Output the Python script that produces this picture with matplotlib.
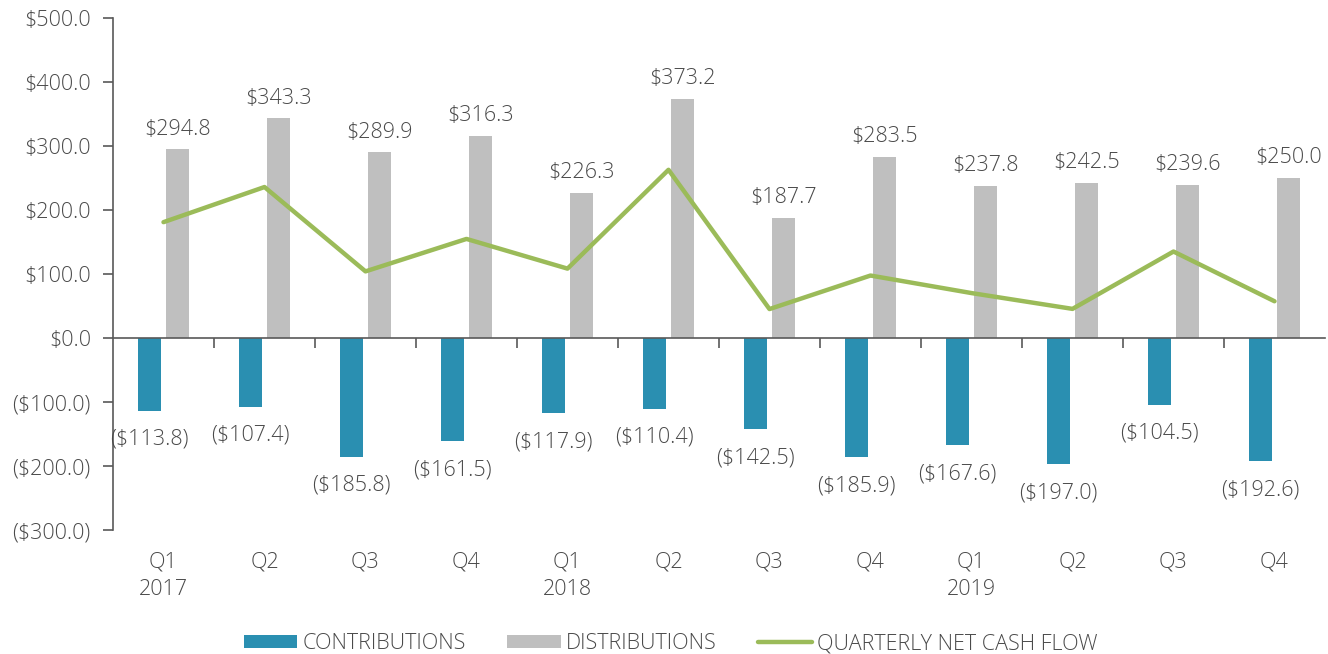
import numpy as np
import matplotlib
matplotlib.use("Agg")
import matplotlib.pyplot as plt
from matplotlib.ticker import FuncFormatter, FixedLocator

plt.rcParams['font.family'] = ['Open Sans', 'DejaVu Sans']
plt.rcParams['font.weight'] = 'light'

# data
quarters = ['Q1\n2017', 'Q2', 'Q3', 'Q4', 'Q1\n2018', 'Q2', 'Q3', 'Q4',
            'Q1\n2019', 'Q2', 'Q3', 'Q4']
contributions = [-113.8, -107.4, -185.8, -161.5, -117.9, -110.4, -142.5,
                 -185.9, -167.6, -197.0, -104.5, -192.6]
distributions = [294.8, 343.3, 289.9, 316.3, 226.3, 373.2, 187.7, 283.5,
                 237.8, 242.5, 239.6, 250.0]
net_cash_flow = [181.0, 235.9, 104.1, 154.8, 108.4, 262.8, 45.2, 97.6,
                 70.2, 45.5, 135.1, 57.4]

c_contrib = '#2A8FB1'
c_dist = '#BFBFBF'
c_net = '#9BBB59'
txt = '#4A4A4A'
fs = 15.5


def money(v, pos=None):
    if v < 0:
        return '(${:,.1f})'.format(-v)
    return '${:,.1f}'.format(v)


fig = plt.figure(figsize=(13.28, 6.54), dpi=100)
ax = fig.add_axes([113 / 1328, 1 - 530 / 654, 1212 / 1328, 512 / 654])

x = np.arange(len(quarters))
w = 0.228
off = 0.139
b1 = ax.bar(x - off, contributions, w, color=c_contrib, label='CONTRIBUTIONS', zorder=2)
b2 = ax.bar(x + off, distributions, w, color=c_dist, label='DISTRIBUTIONS', zorder=2)
l1, = ax.plot(x, net_cash_flow, color=c_net, lw=3.2, solid_capstyle='round',
              label='QUARTERLY NET CASH FLOW', zorder=3)

for xi, v in zip(x, distributions):
    ax.annotate(money(v), (xi + off, v), xytext=(0, 7), textcoords='offset points',
                ha='center', va='bottom', fontsize=fs, color=txt)
for xi, v in zip(x, contributions):
    ax.annotate(money(v), (xi - off, v), xytext=(0, -13), textcoords='offset points',
                ha='center', va='top', fontsize=fs, color=txt)

ax.set_xlim(-0.5, len(quarters) - 0.5)
ax.set_ylim(-300, 500)
ax.set_yticks(np.arange(-300, 501, 100))
ax.yaxis.set_major_formatter(FuncFormatter(money))

# boundary ticks on the zero line, category labels drawn below the plot
ax.set_xticks([])
ax.xaxis.set_minor_locator(FixedLocator(np.arange(0.5, len(quarters) - 0.5, 1)))
ax.tick_params(axis='x', which='minor', length=7, width=1.2, color='#595959',
               direction='out')
ax.tick_params(axis='y', labelsize=fs, labelcolor=txt, length=7, width=1.2,
               color='#595959', pad=9)

for s in ['top', 'right']:
    ax.spines[s].set_visible(False)
ax.spines['left'].set_color('#595959')
ax.spines['left'].set_linewidth(1.2)
ax.spines['bottom'].set_position(('data', 0))
ax.spines['bottom'].set_color('#595959')
ax.spines['bottom'].set_linewidth(1.2)
ax.spines['bottom'].set_zorder(4)

trans = ax.get_xaxis_transform()
for xi, q in zip(x, quarters):
    ax.text(xi, -0.042, q, transform=trans, ha='center', va='top',
            fontsize=fs, color=txt, linespacing=1.4)

leg = fig.legend([b1, b2, l1],
                 ['CONTRIBUTIONS', 'DISTRIBUTIONS', 'QUARTERLY NET CASH FLOW'],
                 loc='lower center', bbox_to_anchor=(0.505, -0.03), ncol=3,
                 frameon=False, fontsize=fs, handlelength=2.5, handleheight=0.55,
                 columnspacing=1.9, handletextpad=0.25)
for t in leg.get_texts():
    t.set_color(txt)

fig.savefig('out.png', dpi=100)
